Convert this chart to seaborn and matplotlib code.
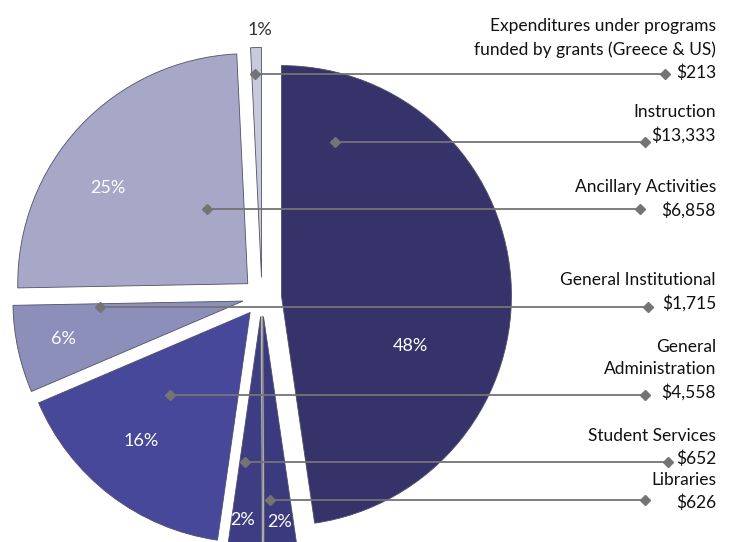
"""Exploded pie of expenditures by category with right-hand leader labels."""

import math

import matplotlib.pyplot as plt
import numpy as np
import seaborn as sns

# data, clockwise from 12 o'clock
categories = [
    "Instruction",
    "Libraries",
    "Student Services",
    "General\nAdministration",
    "General Institutional",
    "Ancillary Activities",
    "Expenditures under programs\nfunded by grants (Greece & US)",
]
amounts = [13333, 626, 652, 4558, 1715, 6858, 213]
slice_colors = ["#35336a", "#3c3a7e", "#3e3d84", "#47489a", "#8d8fbb", "#a7a7c8", "#c9c9dc"]

# layout, in pixels from the top-left of the picture
W, H = 737, 542
CENTER = (262, 297)
RADIUS = 230
EXPLODE = 19.5
TEXT_RIGHT = 716
# leader line: y, start x (inside slice), end x (near label)
leaders = [
    (142, 335, 645),
    (500, 270, 645),
    (462, 245, 668),
    (395, 170, 645),
    (307, 100, 648),
    (209, 207, 640),
    (74, 255, 665),
]
# centre of the last text line of each label
label_y = [135, 502, 458, 392, 303, 210, 72]
# percentage label centres
pct_pos = [(410, 346), (280, 522), (243, 520), (141, 441), (63, 339), (108, 188), (260, 30)]
pct_white = [True, True, True, True, True, True, False]


def flip(py):
    return H - py


sns.set_theme(style="white")
plt.rcParams["font.family"] = ["Lato", "DejaVu Sans"]

fig = plt.figure(figsize=(W / 100, H / 100), dpi=100)
ax = fig.add_axes([0, 0, 1, 1])

ax.pie(
    amounts,
    explode=[EXPLODE] * len(amounts),
    startangle=90,
    counterclock=False,
    center=(CENTER[0], flip(CENTER[1])),
    radius=RADIUS,
    colors=slice_colors,
    wedgeprops=dict(edgecolor="#50506a", linewidth=0.6),
)

total = sum(amounts)

# edge line between the two small slices at the bottom
frac = (amounts[0] + amounts[1]) / total
ang = math.radians(90 - 360 * frac)
d = np.array([math.cos(ang), math.sin(ang)])
c = np.array([CENTER[0], flip(CENTER[1])])
p0 = c + EXPLODE * d
p1 = c + (RADIUS + 80) * d
ax.plot([p0[0], p1[0]], [p0[1], p1[1]], color="#8a8a8a", lw=1.0, zorder=3)

for amt, (px, py), white in zip(amounts, pct_pos, pct_white):
    ax.text(px, flip(py), f"{amt / total * 100:.0f}%", ha="center", va="center",
            fontsize=13, color="white" if white else "#333333", zorder=5)

for name, amt, (ly, x0, x1), ty in zip(categories, amounts, leaders, label_y):
    ax.plot([x0, x1], [flip(ly), flip(ly)], color="#747474", lw=1.3, zorder=4,
            marker="D", markersize=5.5, markevery=[0, 1])
    ax.text(TEXT_RIGHT, flip(ty + 6), f"{name}\n${amt:,}", ha="right", va="baseline",
            fontsize=12.5, color="#111111", linespacing=1.5, zorder=5)

ax.set_xlim(0, W)
ax.set_ylim(0, H)
ax.set_aspect("equal")
ax.axis("off")

fig.savefig("out.png", dpi=100)
